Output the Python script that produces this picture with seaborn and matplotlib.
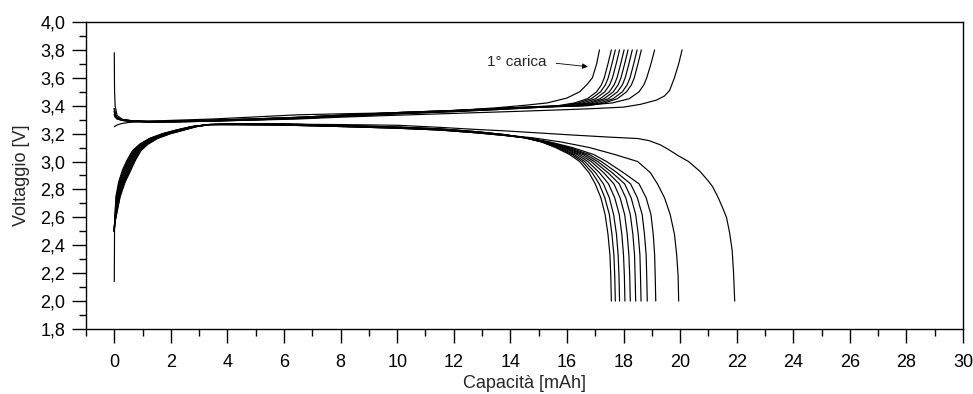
import matplotlib
matplotlib.use("Agg")
import matplotlib.pyplot as plt
from matplotlib.ticker import MultipleLocator, FuncFormatter
import seaborn as sns
import pandas as pd

# ------------------------------------------------------------------ data
# charge curves (end at 3.8 V)
charge_x = [
    # 1st charge
    [0, 0.1, 0.25, 0.5, 1.0, 2.0, 3.5, 5, 6.5, 8, 10, 12, 13.5, 14.6, 15.3, 16.0, 16.45, 16.7, 16.9, 17.05, 17.15],
    [0, 0.03, 0.1, 0.3, 0.65, 1.2, 2.2, 3.5, 5, 6.5, 8, 10, 12, 13.5, 15, 15.67, 16.27, 16.72, 17.05, 17.22, 17.32, 17.45, 17.57],
    [0, 0.03, 0.1, 0.3, 0.65, 1.2, 2.2, 3.5, 5, 6.5, 8, 10, 12, 13.5, 15, 15.81, 16.41, 16.86, 17.19, 17.36, 17.46, 17.59, 17.71],
    [0, 0.03, 0.1, 0.3, 0.65, 1.2, 2.2, 3.5, 5, 6.5, 8, 10, 12, 13.5, 15, 15.96, 16.56, 17.01, 17.34, 17.51, 17.61, 17.74, 17.86],
    [0, 0.005, 0.01, 0.03, 0.1, 0.3, 0.65, 1.2, 2.2, 3.5, 5, 6.5, 8, 10, 12, 13.5, 15, 16.12, 16.72, 17.17, 17.50, 17.67, 17.77, 17.90, 18.02],
    [0, 0.03, 0.1, 0.3, 0.65, 1.2, 2.2, 3.5, 5, 6.5, 8, 10, 12, 13.5, 15, 16.26, 16.86, 17.31, 17.64, 17.81, 17.91, 18.04, 18.16],
    [0, 0.03, 0.1, 0.3, 0.65, 1.2, 2.2, 3.5, 5, 6.5, 8, 10, 12, 13.5, 15, 16.41, 17.01, 17.46, 17.79, 17.96, 18.06, 18.19, 18.31],
    [0, 0.03, 0.1, 0.3, 0.65, 1.2, 2.2, 3.5, 5, 6.5, 8, 10, 12, 13.5, 15, 16.58, 17.18, 17.63, 17.96, 18.13, 18.23, 18.36, 18.48],
    [0, 0.03, 0.1, 0.3, 0.65, 1.2, 2.2, 3.5, 5, 6.5, 8, 10, 12, 13.5, 15, 16.73, 17.33, 17.78, 18.11, 18.28, 18.38, 18.51, 18.63],
    [0, 0.03, 0.1, 0.3, 0.65, 1.2, 2.2, 3.5, 5, 6.5, 8, 10, 12, 13.5, 15, 16.0, 16.8, 17.6, 18.2, 18.55, 18.72, 18.82, 18.97, 19.1],
    [0, 0.1, 0.3, 0.65, 1.2, 2.2, 3.5, 5, 6.5, 8, 10, 12, 14, 16, 17, 18, 18.6, 19.16, 19.45, 19.63, 19.8, 19.95, 20.07],
]
charge_v = [
    [3.25, 3.262, 3.272, 3.28, 3.287, 3.295, 3.305, 3.32, 3.335, 3.342, 3.35, 3.365, 3.385, 3.405, 3.42, 3.455, 3.5, 3.55, 3.6, 3.7, 3.8],
    [3.36, 3.33, 3.31, 3.297, 3.29, 3.285, 3.287, 3.293, 3.302, 3.312, 3.327, 3.346, 3.362, 3.376, 3.391, 3.40, 3.42, 3.45, 3.5, 3.55, 3.6, 3.7, 3.8],
    [3.38, 3.34, 3.315, 3.30, 3.292, 3.288, 3.29, 3.297, 3.306, 3.317, 3.332, 3.351, 3.366, 3.38, 3.394, 3.40, 3.42, 3.45, 3.5, 3.55, 3.6, 3.7, 3.8],
    [3.34, 3.32, 3.305, 3.294, 3.287, 3.283, 3.284, 3.29, 3.299, 3.309, 3.323, 3.342, 3.358, 3.372, 3.388, 3.40, 3.42, 3.45, 3.5, 3.55, 3.6, 3.7, 3.8],
    [3.78, 3.6, 3.5, 3.4, 3.33, 3.30, 3.29, 3.286, 3.287, 3.292, 3.301, 3.311, 3.326, 3.345, 3.361, 3.375, 3.39, 3.40, 3.42, 3.45, 3.5, 3.55, 3.6, 3.7, 3.8],
    [3.36, 3.33, 3.31, 3.297, 3.29, 3.285, 3.287, 3.293, 3.302, 3.312, 3.327, 3.346, 3.362, 3.376, 3.391, 3.40, 3.42, 3.45, 3.5, 3.55, 3.6, 3.7, 3.8],
    [3.38, 3.34, 3.315, 3.30, 3.292, 3.288, 3.29, 3.297, 3.306, 3.317, 3.332, 3.351, 3.366, 3.38, 3.394, 3.40, 3.42, 3.45, 3.5, 3.55, 3.6, 3.7, 3.8],
    [3.34, 3.32, 3.305, 3.294, 3.287, 3.283, 3.284, 3.29, 3.299, 3.309, 3.323, 3.342, 3.358, 3.372, 3.388, 3.40, 3.42, 3.45, 3.5, 3.55, 3.6, 3.7, 3.8],
    [3.36, 3.33, 3.31, 3.297, 3.29, 3.285, 3.287, 3.293, 3.302, 3.312, 3.327, 3.346, 3.362, 3.376, 3.391, 3.40, 3.42, 3.45, 3.5, 3.55, 3.6, 3.7, 3.8],
    [3.38, 3.34, 3.315, 3.30, 3.292, 3.288, 3.29, 3.297, 3.306, 3.317, 3.332, 3.351, 3.366, 3.38, 3.394, 3.397, 3.405, 3.42, 3.45, 3.5, 3.55, 3.6, 3.7, 3.8],
    [3.33, 3.31, 3.295, 3.288, 3.284, 3.285, 3.29, 3.297, 3.305, 3.318, 3.332, 3.345, 3.358, 3.372, 3.38, 3.39, 3.41, 3.44, 3.47, 3.51, 3.6, 3.7, 3.8],
]

# discharge curves (end at 2.0 V)
discharge_x = [
    [0, 0.01, 0.07, 0.13, 0.26, 0.44, 0.60, 0.80, 1.05, 1.39, 1.85, 2.33, 2.80, 3.35, 4.5, 6, 8, 10, 11.5, 12.8, 13.8, 14.5, 15.1, 15.6, 16.1, 16.45, 16.78, 17.0, 17.2, 17.35, 17.45, 17.52, 17.55, 17.57],
    [0, 0.01, 0.05, 0.09, 0.20, 0.35, 0.51, 0.71, 0.96, 1.30, 1.76, 2.24, 2.74, 3.32, 4.5, 6, 8, 10, 11.5, 12.8, 13.8, 14.51, 15.13, 15.65, 16.18, 16.54, 16.89, 17.14, 17.34, 17.50, 17.59, 17.66, 17.69, 17.71],
    [0, 0.01, 0.09, 0.18, 0.33, 0.53, 0.69, 0.89, 1.14, 1.48, 1.94, 2.42, 2.87, 3.37, 4.5, 6, 8, 10, 11.5, 12.8, 13.8, 14.52, 15.16, 15.71, 16.26, 16.63, 17.01, 17.29, 17.50, 17.65, 17.75, 17.81, 17.84, 17.86],
    [0, 0.01, 0.03, 0.06, 0.15, 0.29, 0.45, 0.65, 0.90, 1.24, 1.70, 2.18, 2.70, 3.30, 4.5, 6, 8, 10, 11.5, 12.8, 13.8, 14.53, 15.19, 15.78, 16.36, 16.74, 17.15, 17.47, 17.69, 17.85, 17.94, 18.0, 18.03, 18.05],
    [0, 0.01, 0.08, 0.15, 0.29, 0.47, 0.63, 0.83, 1.08, 1.42, 1.88, 2.36, 2.83, 3.35, 4.5, 6, 8, 10, 11.5, 12.8, 13.8, 14.54, 15.23, 15.86, 16.46, 16.86, 17.30, 17.66, 17.88, 18.04, 18.13, 18.19, 18.22, 18.24],
    [0, 0.01, 0.05, 0.10, 0.22, 0.38, 0.54, 0.74, 0.99, 1.33, 1.79, 2.27, 2.76, 3.33, 4.5, 6, 8, 10, 11.5, 12.8, 13.8, 14.55, 15.26, 15.93, 16.57, 16.97, 17.45, 17.85, 18.08, 18.24, 18.33, 18.39, 18.41, 18.43],
    [0, 0.01, 0.10, 0.20, 0.35, 0.56, 0.72, 0.92, 1.17, 1.51, 1.97, 2.45, 2.89, 3.38, 4.5, 6, 8, 10, 11.5, 12.8, 13.8, 14.57, 15.30, 16.0, 16.67, 17.09, 17.60, 18.04, 18.27, 18.43, 18.52, 18.58, 18.60, 18.62],
    [0, 0.01, 0.04, 0.07, 0.17, 0.32, 0.48, 0.68, 0.93, 1.27, 1.73, 2.21, 2.72, 3.31, 4.5, 6, 8, 10, 11.5, 12.8, 13.8, 14.58, 15.34, 16.09, 16.79, 17.22, 17.77, 18.25, 18.49, 18.66, 18.74, 18.80, 18.82, 18.84],
    [0, 0.01, 0.08, 0.17, 0.31, 0.50, 0.66, 0.86, 1.11, 1.45, 1.91, 2.39, 2.85, 3.36, 4.5, 6, 8, 10, 11.5, 12.8, 13.8, 14.6, 15.4, 16.2, 16.95, 17.4, 18.0, 18.55, 18.8, 18.97, 19.05, 19.1, 19.12, 19.14],
    [0, 0.01, 0.06, 0.12, 0.24, 0.41, 0.57, 0.77, 1.02, 1.36, 1.82, 2.30, 2.78, 3.34, 4.5, 6, 8, 10, 11.5, 12.8, 13.8, 14.8, 15.8, 16.8, 17.7, 18.5, 18.95, 19.2, 19.45, 19.65, 19.8, 19.88, 19.93, 19.95],
    [0, 0.01, 0.11, 0.21, 0.38, 0.59, 0.75, 0.95, 1.20, 1.54, 2.00, 2.48, 2.91, 3.39, 4.5, 6, 8, 10, 11.5, 12.8, 13.8, 15, 16.2, 17.5, 18.5, 18.9, 19.3, 19.6, 19.95, 20.3, 20.7, 21.0, 21.15, 21.35, 21.5, 21.64, 21.75, 21.84, 21.89, 21.93],
]
discharge_v = [
    [2.5, 2.55, 2.65, 2.75, 2.85, 2.94, 3.01, 3.08, 3.125, 3.166, 3.2, 3.226, 3.25, 3.265, 3.268, 3.265, 3.255, 3.243, 3.23, 3.21, 3.19, 3.17, 3.14, 3.10, 3.05, 3.00, 2.92, 2.84, 2.74, 2.62, 2.48, 2.33, 2.18, 2.00],
    [2.5, 2.55, 2.65, 2.75, 2.85, 2.94, 3.01, 3.08, 3.125, 3.166, 3.2, 3.226, 3.25, 3.265, 3.272, 3.269, 3.259, 3.247, 3.234, 3.214, 3.193, 3.17, 3.14, 3.10, 3.05, 3.00, 2.92, 2.84, 2.74, 2.62, 2.48, 2.33, 2.18, 2.00],
    [2.5, 2.55, 2.65, 2.75, 2.85, 2.94, 3.01, 3.08, 3.125, 3.166, 3.2, 3.226, 3.25, 3.265, 3.264, 3.261, 3.251, 3.239, 3.226, 3.206, 3.187, 3.17, 3.14, 3.10, 3.05, 3.00, 2.92, 2.84, 2.74, 2.62, 2.48, 2.33, 2.18, 2.00],
    [2.14, 2.55, 2.65, 2.75, 2.85, 2.94, 3.01, 3.08, 3.125, 3.166, 3.2, 3.226, 3.25, 3.265, 3.268, 3.265, 3.255, 3.243, 3.23, 3.21, 3.19, 3.17, 3.14, 3.10, 3.05, 3.00, 2.92, 2.84, 2.74, 2.62, 2.48, 2.33, 2.18, 2.00],
    [2.5, 2.55, 2.65, 2.75, 2.85, 2.94, 3.01, 3.08, 3.125, 3.166, 3.2, 3.226, 3.25, 3.265, 3.272, 3.269, 3.259, 3.247, 3.234, 3.214, 3.193, 3.17, 3.14, 3.10, 3.05, 3.00, 2.92, 2.84, 2.74, 2.62, 2.48, 2.33, 2.18, 2.00],
    [2.5, 2.55, 2.65, 2.75, 2.85, 2.94, 3.01, 3.08, 3.125, 3.166, 3.2, 3.226, 3.25, 3.265, 3.264, 3.261, 3.251, 3.239, 3.226, 3.206, 3.187, 3.17, 3.14, 3.10, 3.05, 3.00, 2.92, 2.84, 2.74, 2.62, 2.48, 2.33, 2.18, 2.00],
    [2.5, 2.55, 2.65, 2.75, 2.85, 2.94, 3.01, 3.08, 3.125, 3.166, 3.2, 3.226, 3.25, 3.265, 3.268, 3.265, 3.255, 3.243, 3.23, 3.21, 3.19, 3.17, 3.14, 3.10, 3.05, 3.00, 2.92, 2.84, 2.74, 2.62, 2.48, 2.33, 2.18, 2.00],
    [2.5, 2.55, 2.65, 2.75, 2.85, 2.94, 3.01, 3.08, 3.125, 3.166, 3.2, 3.226, 3.25, 3.265, 3.272, 3.269, 3.259, 3.247, 3.234, 3.214, 3.193, 3.17, 3.14, 3.10, 3.05, 3.00, 2.92, 2.84, 2.74, 2.62, 2.48, 2.33, 2.18, 2.00],
    [2.5, 2.55, 2.65, 2.75, 2.85, 2.94, 3.01, 3.08, 3.125, 3.166, 3.2, 3.226, 3.25, 3.265, 3.264, 3.261, 3.251, 3.239, 3.226, 3.206, 3.187, 3.17, 3.14, 3.10, 3.05, 3.00, 2.92, 2.84, 2.74, 2.62, 2.48, 2.33, 2.18, 2.00],
    [2.5, 2.55, 2.65, 2.75, 2.85, 2.94, 3.01, 3.08, 3.125, 3.166, 3.2, 3.226, 3.25, 3.265, 3.268, 3.265, 3.255, 3.243, 3.23, 3.21, 3.19, 3.17, 3.14, 3.10, 3.05, 3.00, 2.92, 2.84, 2.74, 2.62, 2.48, 2.33, 2.18, 2.00],
    [2.5, 2.55, 2.65, 2.75, 2.85, 2.94, 3.01, 3.08, 3.125, 3.166, 3.2, 3.226, 3.25, 3.265, 3.27, 3.268, 3.265, 3.26, 3.245, 3.23, 3.22, 3.205, 3.19, 3.175, 3.165, 3.15, 3.12, 3.085, 3.04, 3.0, 2.93, 2.86, 2.82, 2.74, 2.67, 2.6, 2.49, 2.365, 2.2, 2.0],
]

x_ticks = [0, 2, 4, 6, 8, 10, 12, 14, 16, 18, 20, 22, 24, 26, 28, 30]
y_ticks = [1.8, 2.0, 2.2, 2.4, 2.6, 2.8, 3.0, 3.2, 3.4, 3.6, 3.8, 4.0]
x_label = "Capacità [mAh]"
y_label = "Voltaggio [V]"
note_text = "1° carica"

# ------------------------------------------------------------------ frame
rows = []
for i, (xs, vs) in enumerate(zip(charge_x, charge_v)):
    for x, v in zip(xs, vs):
        rows.append((f"c{i}", x, v))
for i, (xs, vs) in enumerate(zip(discharge_x, discharge_v)):
    for x, v in zip(xs, vs):
        rows.append((f"d{i}", x, v))
df = pd.DataFrame(rows, columns=["curve", "cap", "volt"])

# ------------------------------------------------------------------ plot
sns.set_theme(style="ticks")
plt.rcParams["font.family"] = ["Liberation Sans", "DejaVu Sans"]

fig = plt.figure(figsize=(9.73, 3.94), dpi=100)
ax = fig.add_axes([86 / 973, 1 - 329 / 394, (963 - 86) / 973, (329 - 22) / 394])

sns.lineplot(data=df, x="cap", y="volt", units="curve", estimator=None,
             sort=False, color="black", linewidth=0.85, ax=ax, legend=False)

ax.set_xlim(-1, 30)
ax.set_ylim(1.8, 4.0)
ax.set_xticks(x_ticks)
ax.set_yticks(y_ticks)
ax.xaxis.set_minor_locator(MultipleLocator(1))
ax.yaxis.set_minor_locator(MultipleLocator(0.1))
ax.xaxis.set_major_formatter(FuncFormatter(lambda v, p: f"{v:g}"))
ax.yaxis.set_major_formatter(FuncFormatter(lambda v, p: f"{v:.1f}".replace(".", ",")))

for s in ax.spines.values():
    s.set_visible(True)
    s.set_color("black")
    s.set_linewidth(1.0)

ax.tick_params(which="major", direction="out", length=10, width=1, colors="black",
               labelsize=13, top=False, right=False)
ax.tick_params(which="minor", direction="out", length=5, width=1, colors="black",
               top=False, right=False)
ax.tick_params(axis="x", which="major", pad=8)
ax.tick_params(axis="y", which="major", pad=5)

ax.set_xlabel(x_label, fontsize=13, labelpad=3)
ax.set_ylabel(y_label, fontsize=13, labelpad=7)

ax.text(13.16, 3.71, note_text, fontsize=11, ha="left", va="center")
ax.annotate("", xy=(16.74, 3.68), xytext=(15.62, 3.704),
            arrowprops=dict(arrowstyle="-|>", color="black", lw=0.6,
                            mutation_scale=8, shrinkA=0, shrinkB=0))

fig.savefig("out.png", dpi=100)
